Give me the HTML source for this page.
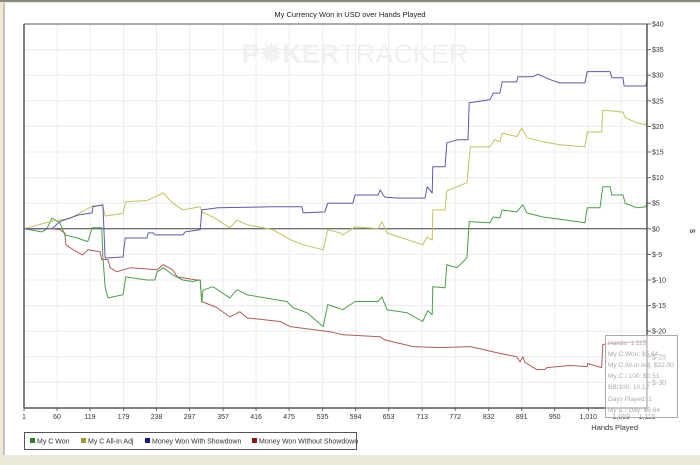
<!DOCTYPE html>
<html><head><meta charset="utf-8">
<style>
html,body{margin:0;padding:0;background:#ece9d8;}
#wrap{position:relative;width:700px;height:465px;overflow:hidden;font-family:"Liberation Sans",sans-serif;}
svg text{font-family:"Liberation Sans",sans-serif;}
</style></head>
<body>
<div id="wrap">
<svg id="chart" width="700" height="465" viewBox="0 0 700 465">
  <rect x="0" y="0" width="700" height="465" fill="#ece9d8"/>
  <line x1="0" y1="1" x2="700" y2="1" stroke="#8a8a7a" stroke-width="2"/>
  <rect x="5" y="3" width="695" height="452" fill="#ffffff"/>
  <line x1="4" y1="3" x2="4" y2="455" stroke="#a0a090" stroke-width="1"/>
  <text x="350" y="17" font-size="7.5" text-anchor="middle" fill="#222">My Currency Won in USD over Hands Played</text>
  <text x="355" y="63" font-size="27" text-anchor="middle" fill="#f0f0f0" font-weight="bold">P<tspan fill="#f2f2f2">✹</tspan>KER<tspan font-weight="normal">TRACKER</tspan></text>
  <g id="grid"></g>
  <g id="series"></g>
  <g id="axes"></g>
  <text x="638" y="430" font-size="7.5" text-anchor="end" fill="#333">Hands Played</text>
  <text x="690" y="231" font-size="7.5" fill="#333" transform="rotate(90 690 231)" text-anchor="middle">$</text>
  <g>
    <rect x="24.5" y="432.5" width="332" height="17" fill="#fff" stroke="#555"/>
    <g><rect x="30" y="438" width="5" height="5" fill="#2e7d2e"/><text x="37" y="443.5" font-size="7" fill="#333">My C Won</text></g>
    <g><rect x="81" y="438" width="5" height="5" fill="#9a9a30"/><text x="88" y="443.5" font-size="7" fill="#333">My C All-In Adj</text></g>
    <g><rect x="145" y="438" width="5" height="5" fill="#1a1a80"/><text x="152" y="443.5" font-size="7" fill="#333">Money Won With Showdown</text></g>
    <g><rect x="252" y="438" width="5" height="5" fill="#8a1a1a"/><text x="259" y="443.5" font-size="7" fill="#333">Money Won Without Showdown</text></g>
  </g>
  <g>
    <rect x="605.5" y="335.5" width="72" height="82" fill="#ffffff" fill-opacity="0.6" stroke="#aaa"/>
    <g font-size="6.5" fill="#aaa">
      <text x="608" y="345">Hands: 1,115</text>
      <text x="608" y="356">My C Won: $5.64</text>
      <text x="608" y="367">My C All-In Adj: $22.00</text>
      <text x="608" y="378">My C / 100: $0.51</text>
      <text x="608" y="389">BB/100: 10.12</text>
      <text x="608" y="401">Days Played: 1</text>
      <text x="608" y="412">My C / Day: $5.64</text>
    </g>
  </g>
</svg>
</div>
<script>
const xTicks = [1,60,119,179,238,297,357,416,475,535,594,653,713,772,832,891,950,1010,1069,1115];
const yTicks = [40,35,30,25,20,15,10,5,0,-5,-10,-15,-20,-25,-30];
const blueHands = [1,51,65,83,98,123,124,142,146,178,182,221,223,232,235,285,289,316,319,348,446,498,500,539,544,589,593,634,638,646,670,718,722,731,732,754,757,777,795,797,834,840,852,856,882,884,911,920,930,945,959,1004,1008,1049,1052,1072,1074,1113,1115];
const blueVals = [0,0,1.4,2.1,2.7,3.1,4.3,4.7,-5.7,-5.5,-1.8,-1.8,-0.8,-0.8,-1.2,-1.2,-0.6,-0.2,3.7,4.1,4.3,4.3,3.1,3.3,5,5,6.6,6.6,7.6,6.2,6,6,8.2,7,12.1,12.1,16.8,17.4,17.4,24.6,25.2,26.5,26.5,28.7,28.7,29.7,29.7,30.2,29.7,29,28.5,28.5,30.7,30.7,29.5,29.5,27.9,27.9,29.5];
const yellowHands = [1,51,83,124,142,146,178,183,221,250,267,285,316,319,339,369,382,400,446,477,500,536,544,566,571,593,634,641,650,686,714,722,731,732,754,757,793,799,834,843,852,856,882,891,900,929,959,1004,1008,1034,1036,1072,1076,1097,1113,1115];
const yellowVals = [0,1.5,2,4.5,4.5,2.5,3,5.3,5.5,7,5,3.7,4.3,3.3,2.3,0.2,1.7,0.8,-0.2,-2.1,-3.1,-4.1,-0.2,-0.8,-1.2,0.4,0,1.4,-0.8,-2.1,-3.1,-1.6,-2.2,3.7,3.7,7.4,9,16,16,17.4,17,18.7,18,19.7,17.8,17,16.4,16,18.9,18.9,23.2,22.8,21.7,20.7,20.3,21.7];
const greenHands = [1,33,42,47,51,65,74,96,115,123,140,142,146,151,178,183,221,235,239,250,267,285,303,316,319,321,339,369,382,400,471,482,507,536,544,571,593,634,641,650,686,714,723,731,732,754,757,775,793,797,834,840,852,856,882,893,900,929,965,1004,1008,1031,1036,1049,1052,1072,1076,1097,1113,1115];
const greenVals = [0,-0.6,0,1.2,2.1,1.2,-1.2,-1.8,-2.5,0.2,0.2,-5.5,-11.3,-13.5,-12.9,-9.4,-10,-10,-8.4,-7.6,-9,-10,-10.3,-10,-14.4,-12,-11.3,-13.5,-11.9,-12.9,-14.2,-15.4,-16.4,-19.1,-14.8,-15.8,-14.2,-14.2,-13.3,-15.8,-16.4,-18.1,-16,-16.8,-11.3,-11.5,-7,-7.6,-5.7,1.4,1.2,2.3,2.1,3.7,3.3,4.7,3.1,2.3,1.8,1.2,4.1,4.1,8.2,8.2,6.6,6.6,5,4.1,4.3,5.6];
const redHands = [1,51,65,74,76,89,106,115,137,140,151,155,167,191,239,250,267,275,310,316,319,346,369,387,400,459,477,548,571,638,646,697,745,799,847,882,888,893,897,918,932,936,977,1008,1009,1034,1036,1049,1115];
const redVals = [0,0,-0.2,-0.8,-3.1,-4.1,-5.1,-4.1,-4.5,-6,-6,-7.6,-8.4,-7.6,-8,-7,-8,-9.4,-10,-10,-14.2,-15.4,-17.2,-16.2,-17.4,-18.1,-19.1,-20.1,-20.7,-21.1,-21.7,-23,-23.2,-23,-24.2,-25,-26,-25,-26.1,-27.5,-27.5,-27.1,-26.7,-26.9,-26.3,-27.1,-22.6,-22.4,-22];

const NS = "http://www.w3.org/2000/svg";
const L = 24, R = 647, T = 24, B = 408;
const xMin = 1, xMax = 1115, yMax = 40, yMin = -35;
function xs(h){ return L + (h - xMin) / (xMax - xMin) * (R - L); }
function ys(v){ return T + (yMax - v) / (yMax - yMin) * (B - T); }
function mk(tag, attrs, parent){ const e = document.createElementNS(NS, tag); for (const k in attrs) e.setAttribute(k, attrs[k]); parent.appendChild(e); return e; }

const grid = document.getElementById('grid');
const axes = document.getElementById('axes');
const series = document.getElementById('series');
xTicks.forEach(t => {
  const g = mk('line', {x1: xs(t), x2: xs(t), y1: T, y2: B, stroke: '#ececec', 'stroke-width': 1}, grid);
  
  
  const tk = mk('line', {x1: xs(t), x2: xs(t), y1: B, y2: B + 3, stroke: '#666'}, axes);
  
  
  const lb = mk('text', {x: xs(t), y: B + 11, 'font-size': 7, 'text-anchor': 'middle', fill: '#333'}, axes);
  lb.textContent = t.toLocaleString('en-US');
  
  
});
yTicks.forEach(t => {
  const g = mk('line', {x1: L, x2: R, y1: ys(t), y2: ys(t), stroke: '#ececec', 'stroke-width': 1}, grid);
  
  
  const tk = mk('line', {x1: R, x2: R + 4, y1: ys(t), y2: ys(t), stroke: '#666'}, axes);
  
  
  const lb = mk('text', {x: R + 5, y: ys(t) + 2.5, 'font-size': 7, fill: '#333'}, axes);
  lb.textContent = t < 0 ? '$-' + (-t) : '$' + t;
  
  
});
const frameL = mk('line', {x1: L, x2: L, y1: T, y2: B, stroke: '#555', 'stroke-width': 1.5}, axes);


const frameT = mk('line', {x1: L, x2: R, y1: T, y2: T, stroke: '#555', 'stroke-width': 1}, axes);


const frameR = mk('line', {x1: R, x2: R, y1: T, y2: B, stroke: '#555', 'stroke-width': 1.5}, axes);


const frameB = mk('line', {x1: L, x2: R, y1: B, y2: B, stroke: '#555', 'stroke-width': 1.5}, axes);


const zero = mk('line', {x1: L, x2: R, y1: ys(0), y2: ys(0), stroke: '#444', 'stroke-width': 1}, grid);



function drawSeries(hands, vals, color, name){
  const pts = hands.map((h, i) => xs(h).toFixed(1) + ',' + ys(vals[i]).toFixed(1)).join(' ');
  const p = mk('polyline', {points: pts, fill: 'none', stroke: color, 'stroke-width': 1, 'stroke-linejoin': 'round'}, series);
  
  
}
drawSeries(redHands, redVals, '#b45a5a', 'money-won-without-showdown-line');
drawSeries(greenHands, greenVals, '#4aa04a', 'my-c-won-line');
drawSeries(yellowHands, yellowVals, '#c2c25a', 'my-c-all-in-adj-line');
drawSeries(blueHands, blueVals, '#5a5ab0', 'money-won-with-showdown-line');
</script>
</body></html>
